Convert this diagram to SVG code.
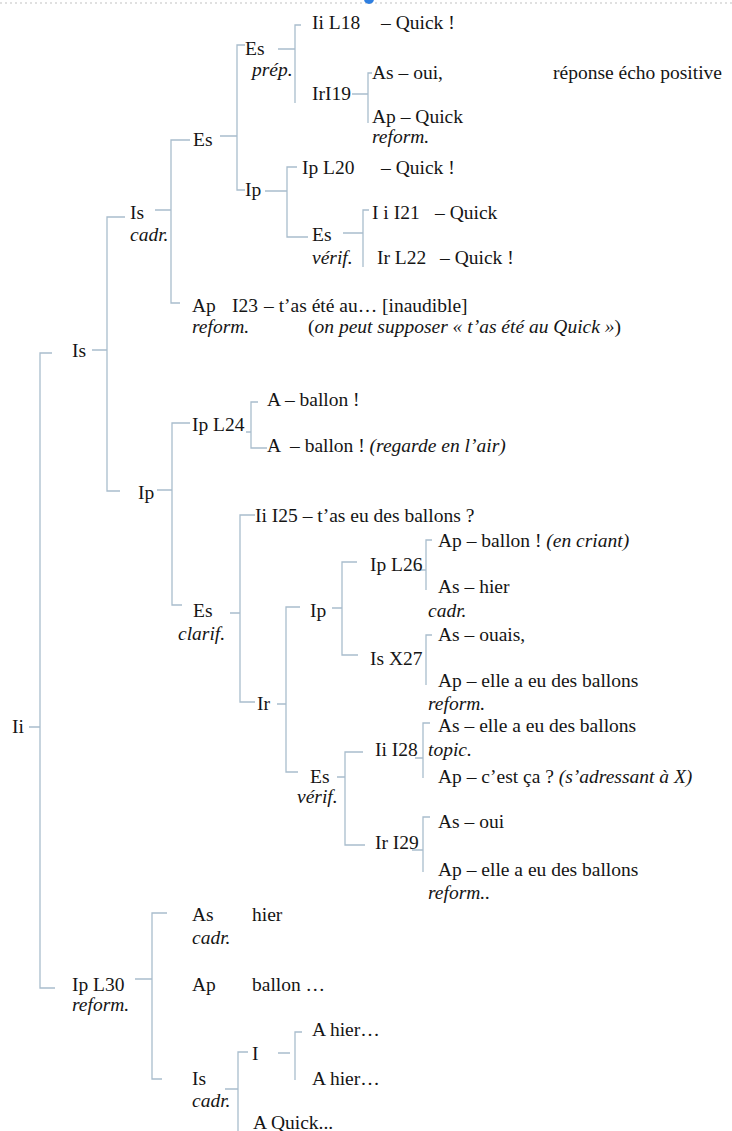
<svg xmlns="http://www.w3.org/2000/svg" width="732" height="1131" viewBox="0 0 732 1131">
<style>
text{font-family:"Liberation Serif","Times New Roman",serif;font-size:19.5px;fill:#151515}
.i{font-style:italic}
#connectors path{stroke:#a9bdcd;stroke-width:1.3;fill:none}
</style>
<rect width="732" height="1131" fill="#ffffff"/>
<g id="page-edge">
<line x1="0" y1="3" x2="732" y2="3" stroke="#d6d6d6" stroke-width="1.5" stroke-dasharray="2 3"/>
<circle cx="369" cy="-1" r="5" fill="#2f7fe0"/>
</g>
<g id="connectors">
<path d="M29 727H40M52 353H40V988H55"/>
<path d="M92 350H107M125 217H107V491H120"/>
<path d="M155 210H171M190 140H171V303H180"/>
<path d="M220 136H237M245 45H237V190H245"/>
<path d="M278 49H295M301 25H295V103"/>
<path d="M352 94H368M372 73H368V123"/>
<path d="M265 191H287M297 167H287V237H308"/>
<path d="M343 233H363M369 210H363V267"/>
<path d="M157 490H172M190 423H172V605H182"/>
<path d="M246 432H251M258 402H251V448H267"/>
<path d="M230 613H240M255 515H240V702H255"/>
<path d="M277 704H286M300 607H286V772H298"/>
<path d="M332 608H342M357 562H342V655H358"/>
<path d="M413 570H426M432 540H426V590"/>
<path d="M432 635H426V685"/>
<path d="M337 777H345M363 752H345V845H365"/>
<path d="M415 758H423M430 723H423V778"/>
<path d="M412 850H423M430 817H423V872"/>
<path d="M135 979H152M167 913H152V1079H162"/>
<path d="M225 1089H238M248 1052H238V1131"/>
<path d="M278 1053H290M302 1032H295V1080"/>
</g>
<g id="n-ii"><text x="12" y="733">Ii</text></g>
<g id="n-is"><text x="72" y="357">Is</text></g>
<g id="n-is-cadr"><text x="130" y="219">Is</text><text class="i" x="130" y="241">cadr.</text></g>
<g id="n-es"><text x="193" y="146">Es</text></g>
<g id="n-es-prep"><text x="245" y="55">Es</text><text class="i" x="252" y="76">prép.</text></g>
<g id="n-ii-l18"><text x="312" y="29">Ii L18</text><text x="381" y="29">– Quick !</text></g>
<g id="n-iri19"><text x="312" y="100">IrI19</text></g>
<g id="n-as-oui"><text x="372" y="79">As – oui,</text><text x="553" y="79">réponse écho positive</text></g>
<g id="n-ap-quick"><text x="372" y="123">Ap – Quick</text><text class="i" x="372" y="143">reform.</text></g>
<g id="n-ip-a"><text x="245" y="196">Ip</text></g>
<g id="n-ip-l20"><text x="302" y="174">Ip L20</text><text x="381" y="174">– Quick !</text></g>
<g id="n-es-verif-a"><text x="312" y="241">Es</text><text class="i" x="312" y="264">vérif.</text></g>
<g id="n-i-i21"><text x="372" y="219">I i I21</text><text x="435" y="219">– Quick</text></g>
<g id="n-ir-l22"><text x="377" y="264">Ir L22</text><text x="440" y="264">– Quick !</text></g>
<g id="n-ap-i23"><text x="192" y="312">Ap</text><text x="232" y="312">I23</text><text x="264" y="312">– t’as été au… [inaudible]</text><text class="i" x="192" y="333">reform.</text><text x="308" y="333">(<tspan class="i">on peut supposer « t’as été au Quick »</tspan>)</text></g>
<g id="n-ip-b"><text x="138" y="499">Ip</text></g>
<g id="n-ip-l24"><text x="192" y="431">Ip L24</text></g>
<g id="n-a-ballon-1"><text x="267" y="406">A – ballon !</text></g>
<g id="n-a-ballon-2"><text x="267" y="452">A</text><text x="290" y="452">– ballon ! <tspan class="i">(regarde en l’air)</tspan></text></g>
<g id="n-es-clarif"><text x="193" y="617">Es</text><text class="i" x="178" y="640">clarif.</text></g>
<g id="n-ii-i25"><text x="255" y="522">Ii I25 – t’as eu des ballons ?</text></g>
<g id="n-ir"><text x="257" y="710">Ir</text></g>
<g id="n-ip-c"><text x="310" y="617">Ip</text></g>
<g id="n-ip-l26"><text x="370" y="571">Ip L26</text></g>
<g id="n-ap-ballon"><text x="438" y="547">Ap – ballon ! <tspan class="i">(en criant)</tspan></text></g>
<g id="n-as-hier"><text x="438" y="593">As – hier</text><text class="i" x="428" y="617">cadr.</text></g>
<g id="n-is-x27"><text x="370" y="665">Is X27</text></g>
<g id="n-as-ouais"><text x="438" y="641">As – ouais,</text></g>
<g id="n-ap-elle-1"><text x="438" y="687">Ap – elle a eu des ballons</text><text class="i" x="428" y="710">reform.</text></g>
<g id="n-as-elle"><text x="438" y="732">As – elle a eu des ballons</text></g>
<g id="n-ii-i28"><text x="375" y="756">Ii I28</text><text class="i" x="428" y="756">topic.</text></g>
<g id="n-es-verif-b"><text x="310" y="783">Es</text><text class="i" x="297" y="803">vérif.</text></g>
<g id="n-ap-cest"><text x="438" y="783">Ap – c’est ça ? <tspan class="i">(s’adressant à X)</tspan></text></g>
<g id="n-ir-i29"><text x="375" y="849">Ir I29</text></g>
<g id="n-as-oui-b"><text x="438" y="828">As – oui</text></g>
<g id="n-ap-elle-2"><text x="438" y="876">Ap – elle a eu des ballons</text><text class="i" x="428" y="899">reform..</text></g>
<g id="n-ip-l30"><text x="72" y="991">Ip L30</text><text class="i" x="72" y="1011">reform.</text></g>
<g id="n-as-hier-b"><text x="192" y="921">As</text><text x="252" y="921">hier</text><text class="i" x="192" y="944">cadr.</text></g>
<g id="n-ap-ballon-b"><text x="192" y="991">Ap</text><text x="252" y="991">ballon …</text></g>
<g id="n-is-cadr-b"><text x="192" y="1085">Is</text><text class="i" x="192" y="1107">cadr.</text></g>
<g id="n-i"><text x="252" y="1060">I</text></g>
<g id="n-a-hier-1"><text x="312" y="1036">A hier…</text></g>
<g id="n-a-hier-2"><text x="312" y="1085">A hier…</text></g>
<g id="n-a-quick"><text x="253" y="1129">A Quick...</text></g>
</svg>
